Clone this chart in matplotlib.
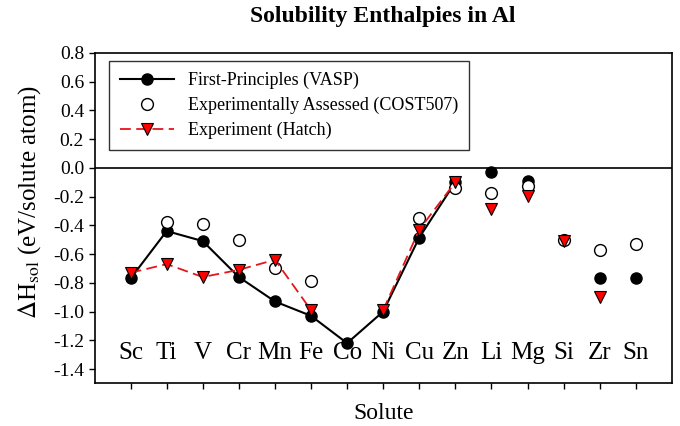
import numpy as np
import matplotlib
matplotlib.use("Agg")
import matplotlib.pyplot as plt

## ===== Data ===== ##

solutes = ["Sc", "Ti", "V", "Cr", "Mn", "Fe", "Co", "Ni", "Cu", "Zn",
           "Li", "Mg", "Si", "Zr", "Sn"]
n_connected = 10   # transition metals Sc..Zn are joined by lines

nan = np.nan
vasp = [-0.77, -0.44, -0.51, -0.76, -0.93, -1.03, -1.22, -1.00, -0.485, -0.10,
        -0.03, -0.09, nan, -0.77, -0.77]
cost507 = [nan, -0.38, -0.39, -0.50, -0.70, -0.79, nan, nan, -0.35, -0.14,
           -0.175, -0.13, -0.50, -0.57, -0.53]
hatch = [-0.73, -0.67, -0.76, -0.71, -0.64, -0.99, nan, -0.99, -0.43, -0.10,
         -0.29, -0.195, -0.51, -0.90, nan]
yticks = [-1.4, -1.2, -1.0, -0.8, -0.6, -0.4, -0.2, 0.0, 0.2, 0.4, 0.6, 0.8]

## ================ ##

plt.rcParams['font.family'] = ['Liberation Serif', 'DejaVu Serif']
plt.rcParams['mathtext.fontset'] = 'stix'

x = np.arange(1, len(solutes) + 1)
vasp = np.array(vasp)
cost507 = np.array(cost507)
hatch = np.array(hatch)
k = n_connected

fig = plt.figure(figsize=(6.8, 4.26), dpi=100)
ax = fig.add_axes([0.139, 0.1, 0.849, 0.776])

ax.axhline(0, color="black", lw=1.2, zorder=1)

# first principles: line through the transition metals, markers for the rest
ax.plot(x[:k], vasp[:k], "-o", color="black", lw=1.5, ms=8,
        mfc="black", mec="black", zorder=3, label="First-Principles (VASP)")
ax.plot(x[k:], vasp[k:], "o", color="black", ms=8, zorder=3)

ax.plot(x, cost507, "o", ls="none", ms=8.5, mfc="white", mec="black",
        mew=1.0, zorder=4, label="Experimentally Assessed (COST507)")

ax.plot(x[:k], hatch[:k], "--v", color="#e8141c", lw=1.3, dashes=(6, 3),
        ms=8.5, mfc="red", mec="black", mew=0.8, zorder=5,
        label="Experiment (Hatch)")
ax.plot(x[k:], hatch[k:], "v", ms=8.5, mfc="red", mec="black", mew=0.8,
        zorder=5)

for xi, name in zip(x, solutes):
    ax.text(xi, -1.29, name, ha="center", va="center", fontsize=18)

ax.set_xlim(0, len(solutes) + 1)
ax.set_ylim(-1.5, 0.8)
ax.set_xticks(x)
ax.set_xticklabels([])
ax.set_yticks(yticks)
ax.set_yticklabels(["%.1f" % v for v in yticks])
ax.tick_params(direction="out", length=4, width=1, labelsize=14)
for s in ax.spines.values():
    s.set_linewidth(1.2)

ax.set_ylabel(r"$\Delta$H$_{\rm sol}$ (eV/solute atom)", fontsize=18)
ax.yaxis.set_label_coords(-0.09, 0.55)
ax.set_xlabel("Solute", fontsize=17)
ax.xaxis.set_label_coords(0.5, -0.06)
ax.set_title("Solubility Enthalpies in Al", fontsize=17, fontweight="bold", pad=22)

leg = ax.legend(loc="upper left", bbox_to_anchor=(0.025, 0.975), fontsize=13,
                frameon=True, fancybox=False, edgecolor="black",
                handlelength=3, borderpad=0.6, labelspacing=0.42,
                borderaxespad=0)
leg.get_frame().set_linewidth(1.0)

fig.savefig("out.png", dpi=100)
